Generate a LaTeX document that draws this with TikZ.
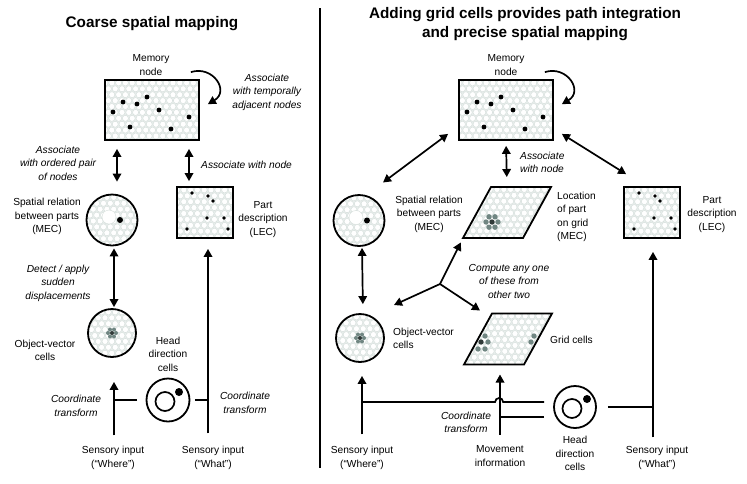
\documentclass[tikz,border=0pt]{standalone}
\usepackage{fontspec}
\setmainfont{Liberation Sans}
\usetikzlibrary{arrows.meta, backgrounds, calc}
\definecolor{cellbg}{RGB}{232,238,236}
\definecolor{cellring}{RGB}{212,221,218}
\definecolor{cgrey}{RGB}{112,134,130}
\definecolor{cdark}{RGB}{48,58,56}
\tikzset{
  txt/.style={font=\fontsize{10.2}{13.5}\selectfont, align=center, inner sep=0pt},
  note/.style={font=\fontsize{10.2}{13.5}\selectfont\itshape, align=center, inner sep=0pt},
  ttl/.style={font=\fontsize{15.3}{19}\selectfont\bfseries, align=center, inner sep=0pt},
  cellbox/.style={draw, line width=1.8pt, inner sep=0pt, rectangle},
  celldisc/.style={draw, line width=1.8pt, inner sep=0pt, circle},
  sheet/.style={draw, line width=1.8pt, line join=miter},
  bubble/.style={draw=cellring, fill=white, line width=0.4pt},
  arr/.style={-{Triangle[length=8pt, width=8.5pt]}, line width=1.7pt},
  dbl/.style={{Triangle[length=8pt, width=8.5pt]}-{Triangle[length=8pt, width=8.5pt]}, line width=1.7pt},
  wire/.style={line width=1.7pt},
}
% packed cells round the origin: half width, half height
\newcommand{\cellpack}[2]{%
  \pgfmathtruncatemacro{\ncol}{2*#1/6.8+2}%
  \pgfmathtruncatemacro{\nrow}{2*#2/5.9+2}%
  \foreach \rw in {0,...,\nrow}{
    \foreach \cl in {0,...,\ncol}{
      \pgfmathsetmacro{\cx}{-#1-3.4+\cl*6.8+mod(\rw,2)*3.4}
      \pgfmathsetmacro{\cy}{-#2-3+\rw*5.9}
      \draw[bubble] (\cx,\cy) circle[radius=3pt];
    }}}
\newcommand{\texturebox}[3]{%
  \begin{pgfonlayer}{background}
  \begin{scope}[shift={(#1.center)}]
    \clip (-#2,-#3) rectangle (#2,#3);
    \fill[cellbg] (-#2,-#3) rectangle (#2,#3);
    \cellpack{#2}{#3}
  \end{scope}
  \end{pgfonlayer}}
\newcommand{\texturedisc}[2]{%
  \begin{pgfonlayer}{background}
  \begin{scope}[shift={(#1.center)}]
    \clip (0,0) circle[radius=#2pt];
    \fill[cellbg] (0,0) circle[radius=#2pt];
    \cellpack{#2}{#2}
  \end{scope}
  \end{pgfonlayer}}
% parallelogram sheet of grid cells: name, x, y
\newcommand{\gridsheet}[3]{%
  \coordinate (#1) at (#2,#3);
  \coordinate (#1-n) at (#2,#3-25.5);
  \coordinate (#1-s) at (#2,#3+25.5);
  \coordinate (#1-sw) at (#2-44,#3+25.5);
  \coordinate (#1-nw) at (#2-16,#3-25.5);
  \begin{pgfonlayer}{background}
  \begin{scope}[shift={(#2,#3)}]
    \clip (-44,25.5) -- (16,25.5) -- (44,-25.5) -- (-16,-25.5) -- cycle;
    \fill[cellbg] (-44,25.5) -- (16,25.5) -- (44,-25.5) -- (-16,-25.5) -- cycle;
    \cellpack{44}{26}
  \end{scope}
  \end{pgfonlayer}
  \draw[sheet, shift={(#2,#3)}] (-44,25.5) -- (16,25.5) -- (44,-25.5) -- (-16,-25.5) -- cycle;}
\newcommand{\hexcluster}[3]{% centre, spacing, dot radius
  \foreach \ang in {0,60,...,300}
    \fill[cgrey] (#1) ++(\ang:#2) circle[radius=#3];
  \fill[cdark] (#1) circle[radius=#3];}

\begin{document}
\begin{tikzpicture}[x=1pt, y=-1pt]
\useasboundingbox (0,0) rectangle (747,483);

% ---------- left panel: coarse mapping ----------
\node[ttl] (ttlL) at (152,23.5) {Coarse spatial mapping};

\node[cellbox, minimum width=94pt, minimum height=60pt] (memL) at (152,110) {};
\texturebox{memL}{47}{30}
\foreach \dx/\dy in {-29/-8, -15/-6, -5/-13, -39/2, 7/0, 37/7, -22/17, 19/19}
  \fill (memL.center) ++(\dx,\dy) circle[radius=2.4pt];
\node[txt] (memLlbl) at (151,65) {Memory\\node};

\node[celldisc, minimum size=51pt] (spL) at (112,220) {};
\texturedisc{spL}{25.5}
\draw[bubble] (spL.center) ++(-3,-3) circle[radius=7pt];
\fill (spL.center) ++(8,0) circle[radius=3pt];

\node[cellbox, minimum width=56pt, minimum height=51pt] (partL) at (205,212.5) {};
\texturebox{partL}{28}{25.5}
\foreach \dx/\dy in {-13/-19.5, 3/-16.5, 8/-11.5, 2/5.5, 19/5.5, -18/16.5, 23/16.5}
  \fill (partL.center) ++(\dx,\dy) circle[radius=1.9pt];

\node[celldisc, minimum size=48pt] (ovL) at (112,333) {};
\texturedisc{ovL}{24}
\hexcluster{ovL.center}{4pt}{2pt}

\node[celldisc, minimum size=43pt] (hdL) at (168,400) {};
\draw[wire] (hdL.center) ++(-3,1.5) circle[radius=9.5pt];
\fill (hdL.center) ++(11,-8) circle[radius=4pt];

\node[note] (loopL) at (267,92) {Associate\\with temporally\\adjacent nodes};
\node[note] (pairL) at (58,163) {Associate\\with ordered pair\\of nodes};
\node[note, anchor=west] (nodeL) at (201,165) {Associate with node};
\node[txt] (spLlbl) at (47,216.5) {Spatial relation\\between parts\\(MEC)};
\node[txt] (partLlbl) at (263,219.5) {Part\\description\\(LEC)};
\node[note] (jumpL) at (58,283) {Detect / apply\\sudden\\displacements};
\node[txt] (ovLlbl) at (45,350.5) {Object-vector\\cells};
\node[txt] (hdLlbl) at (168,354.3) {Head\\direction\\cells};
\node[note] (ctL1) at (76,406) {Coordinate\\transform};
\node[note] (ctL2) at (245,403) {Coordinate\\transform};
\node[txt] (whereL) at (113,458) {Sensory input\\(“Where”)};
\node[txt] (whatL) at (213,458) {Sensory input\\(“What”)};

\draw[arr] ([shift={(-9,-7)}]memL.north east) .. controls +(22,-7) and +(22,-13) .. ([shift={(8,25)}]memL.north east);
\draw[dbl, shorten <=8pt, shorten >=12pt] ([xshift=-35pt]memL.south) -- ([xshift=5pt]spL.north);
\draw[dbl, shorten <=8pt, shorten >=5pt] ([xshift=37pt]memL.south) -- ([xshift=-16pt]partL.north);
\draw[dbl, shorten <=2pt, shorten >=1pt] ([xshift=2pt]spL.south) -- ([xshift=2pt]ovL.north);
\draw[arr, shorten <=11pt, shorten >=24pt] ([xshift=1pt]whereL.north) -- ([xshift=2pt]ovL.south);
\draw[arr, shorten <=13pt, shorten >=10pt] ([xshift=-5pt]whatL.north) -- ([xshift=3pt]partL.south);
\draw[wire] ([xshift=-8.5pt]hdL.west) -- ++(-24,0);
\draw[wire] ([xshift=4.5pt]hdL.east) -- ++(14,0);

\draw[line width=2.4pt] (320,8) -- (320,468);

% ---------- right panel: grid cells ----------
\node[ttl] (ttlR) at (525,24) {Adding grid cells provides path integration\\and precise spatial mapping};

\node[cellbox, minimum width=94pt, minimum height=60pt] (memR) at (506,110) {};
\texturebox{memR}{47}{30}
\foreach \dx/\dy in {-29/-8, -15/-6, -5/-13, -39/2, 7/0, 37/7, -22/17, 19/19}
  \fill (memR.center) ++(\dx,\dy) circle[radius=2.4pt];
\node[txt] (memRlbl) at (506,65) {Memory\\node};

\node[celldisc, minimum size=51pt] (spR) at (359,220.5) {};
\texturedisc{spR}{25.5}
\draw[bubble] (spR.center) ++(-3,-3) circle[radius=7pt];
\fill (spR.center) ++(8,0) circle[radius=3pt];

\gridsheet{locR}{507}{212.5}
\hexcluster{$(locR)+(-15,9.5)$}{6pt}{2.7pt}

\node[cellbox, minimum width=56pt, minimum height=51pt] (partR) at (652,212.5) {};
\texturebox{partR}{28}{25.5}
\foreach \dx/\dy in {-13/-19.5, 3/-16.5, 8/-11.5, 2/5.5, 19/5.5, -18/16.5, 23/16.5}
  \fill (partR.center) ++(\dx,\dy) circle[radius=1.9pt];

\node[celldisc, minimum size=48pt] (ovR) at (360,338) {};
\texturedisc{ovR}{24}
\hexcluster{ovR.center}{4pt}{2pt}

\gridsheet{gridR}{508}{339}
\foreach \dx/\dy in {-23/-3, -20/3, -30/10, -23/10, 26/-3, 23/3}
  \fill[cgrey] (gridR) ++(\dx,\dy) circle[radius=2.7pt];
\fill[cdark] (gridR) ++(-27,3) circle[radius=2.7pt];

\node[celldisc, minimum size=42pt] (hdR) at (575,407) {};
\draw[wire] (hdR.center) ++(-3,1.5) circle[radius=9.5pt];
\fill (hdR.center) ++(12,-8) circle[radius=4pt];

\coordinate (hub) at (440,284);

\node[note, align=left, anchor=west] (nodeR) at (520,162.5) {Associate\\with node};
\node[txt] (spRlbl) at (429,214.3) {Spatial relation\\between parts\\(MEC)};
\node[txt, align=left, anchor=west] (locRlbl) at (557,217) {Location\\of part\\on grid\\(MEC)};
\node[txt] (partRlbl) at (712,214.3) {Part\\description\\(LEC)};
\node[note] (anyR) at (509,281) {Compute any one\\of these from\\other two};
\node[txt, align=left, anchor=west] (ovRlbl) at (393,338.5) {Object-vector\\cells};
\node[txt, anchor=west] (gridRlbl) at (550,340) {Grid cells};
\node[note] (ctR) at (466,422.5) {Coordinate\\transform};
\node[txt] (whereR) at (362,458) {Sensory input\\(“Where”)};
\node[txt] (moveR) at (500,456) {Movement\\information};
\node[txt] (hdRlbl) at (575,453.5) {Head\\direction\\cells};
\node[txt] (whatR) at (657,458) {Sensory input\\(“What”)};

\draw[arr] ([shift={(-9,-7)}]memR.north east) .. controls +(22,-7) and +(22,-13) .. ([shift={(8,25)}]memR.north east);
\draw[dbl] ([shift={(-10,-7)}]memR.south west) -- ([shift={(24,-38)}]spR.center);
\draw[dbl, shorten <=5pt, shorten >=10pt] (memR.south) -- (locR-n);
\draw[dbl] ([shift={(8,-7)}]memR.south east) -- ([shift={(3,-12)}]partR.north west);
\draw[arr, shorten >=5pt] (hub) -- (locR-sw);
\draw[arr] (hub) -- ([shift={(34,-33)}]ovR.center);
\draw[arr] (hub) -- ([shift={(-12,-3)}]gridR-nw);
\draw[dbl, shorten <=1pt, shorten >=9pt] ([xshift=3pt]spR.south) -- ([xshift=3pt]ovR.north);
\draw[arr, shorten <=12pt, shorten >=13pt] (whereR.north) -- ([xshift=2pt]ovR.south);
\draw[wire] ([shift={(-9,-5)}]hdR.west) -- ++(-41,0) arc[start angle=0, end angle=180, radius=4pt] -- ++(-134,0);
\draw[wire] ([shift={(-9,10)}]hdR.west) -- ++(-45,0);
\draw[arr, shorten <=11pt, shorten >=10pt] (moveR.north) -- ([xshift=-8pt]gridR-s);
\draw[wire] ([xshift=11pt]hdR.east) -- ++(46,0);
\draw[arr, shorten <=9pt, shorten >=13pt] ([xshift=-4pt]whatR.north) -- ([xshift=1pt]partR.south);

\end{tikzpicture}
\end{document}
